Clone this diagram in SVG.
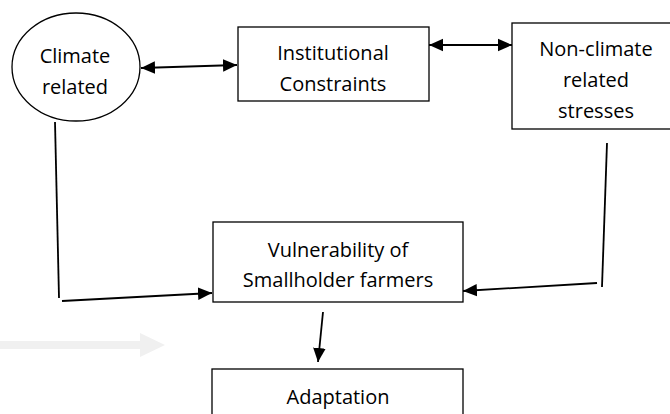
<svg xmlns="http://www.w3.org/2000/svg" width="670" height="414" viewBox="0 0 670 414">
<defs>
<style>
.n{fill:#fff;stroke:#000;stroke-width:1.3}
.t{font-family:"Open Sans","Liberation Sans",sans-serif;font-size:20px;fill:#000;text-anchor:middle}
.c{fill:none;stroke:#000;stroke-width:1.8}
</style>
<marker id="ah" viewBox="0 0 10 10" refX="10" refY="5" markerWidth="14" markerHeight="14" markerUnits="userSpaceOnUse" orient="auto-start-reverse">
<path d="M0,0.5L10,5L0,9.5z" fill="#000"/>
</marker>
</defs>
<rect width="670" height="414" fill="#fff"/>
<path d="M0,341h140v-8l25,12l-25,12v-8H0z" fill="#f0f0f0"/>
<g id="climate"><ellipse class="n" cx="76" cy="67" rx="64" ry="54"/><text class="t" x="75" y="63">Climate</text><text class="t" x="75" y="94">related</text></g>
<g id="institutional"><rect class="n" x="238" y="27" width="191" height="74"/><text class="t" x="333" y="60">Institutional</text><text class="t" x="333" y="91">Constraints</text></g>
<g id="nonclimate"><rect class="n" x="512" y="23" width="170" height="106"/><text class="t" x="596" y="56">Non-climate</text><text class="t" x="596" y="87">related</text><text class="t" x="596" y="118">stresses</text></g>
<g id="vulnerability"><rect class="n" x="213" y="222" width="250" height="80"/><text class="t" x="338" y="257">Vulnerability of</text><text class="t" x="338" y="287">Smallholder farmers</text></g>
<g id="adaptation"><rect class="n" x="212" y="369" width="251" height="60"/><text class="t" x="338" y="404">Adaptation</text></g>
<g id="connectors">
<line class="c" x1="141" y1="68" x2="237" y2="65" marker-start="url(#ah)" marker-end="url(#ah)"/>
<line class="c" x1="429" y1="45" x2="512" y2="45" marker-start="url(#ah)" marker-end="url(#ah)"/>
<line class="c" x1="55" y1="122" x2="59" y2="298"/>
<line class="c" x1="62" y1="301" x2="212" y2="293" marker-end="url(#ah)"/>
<line class="c" x1="607" y1="143" x2="602" y2="287"/>
<line class="c" x1="597" y1="283" x2="463" y2="291" marker-end="url(#ah)"/>
<line class="c" x1="323" y1="312" x2="318" y2="362" marker-end="url(#ah)"/>
</g>
</svg>
